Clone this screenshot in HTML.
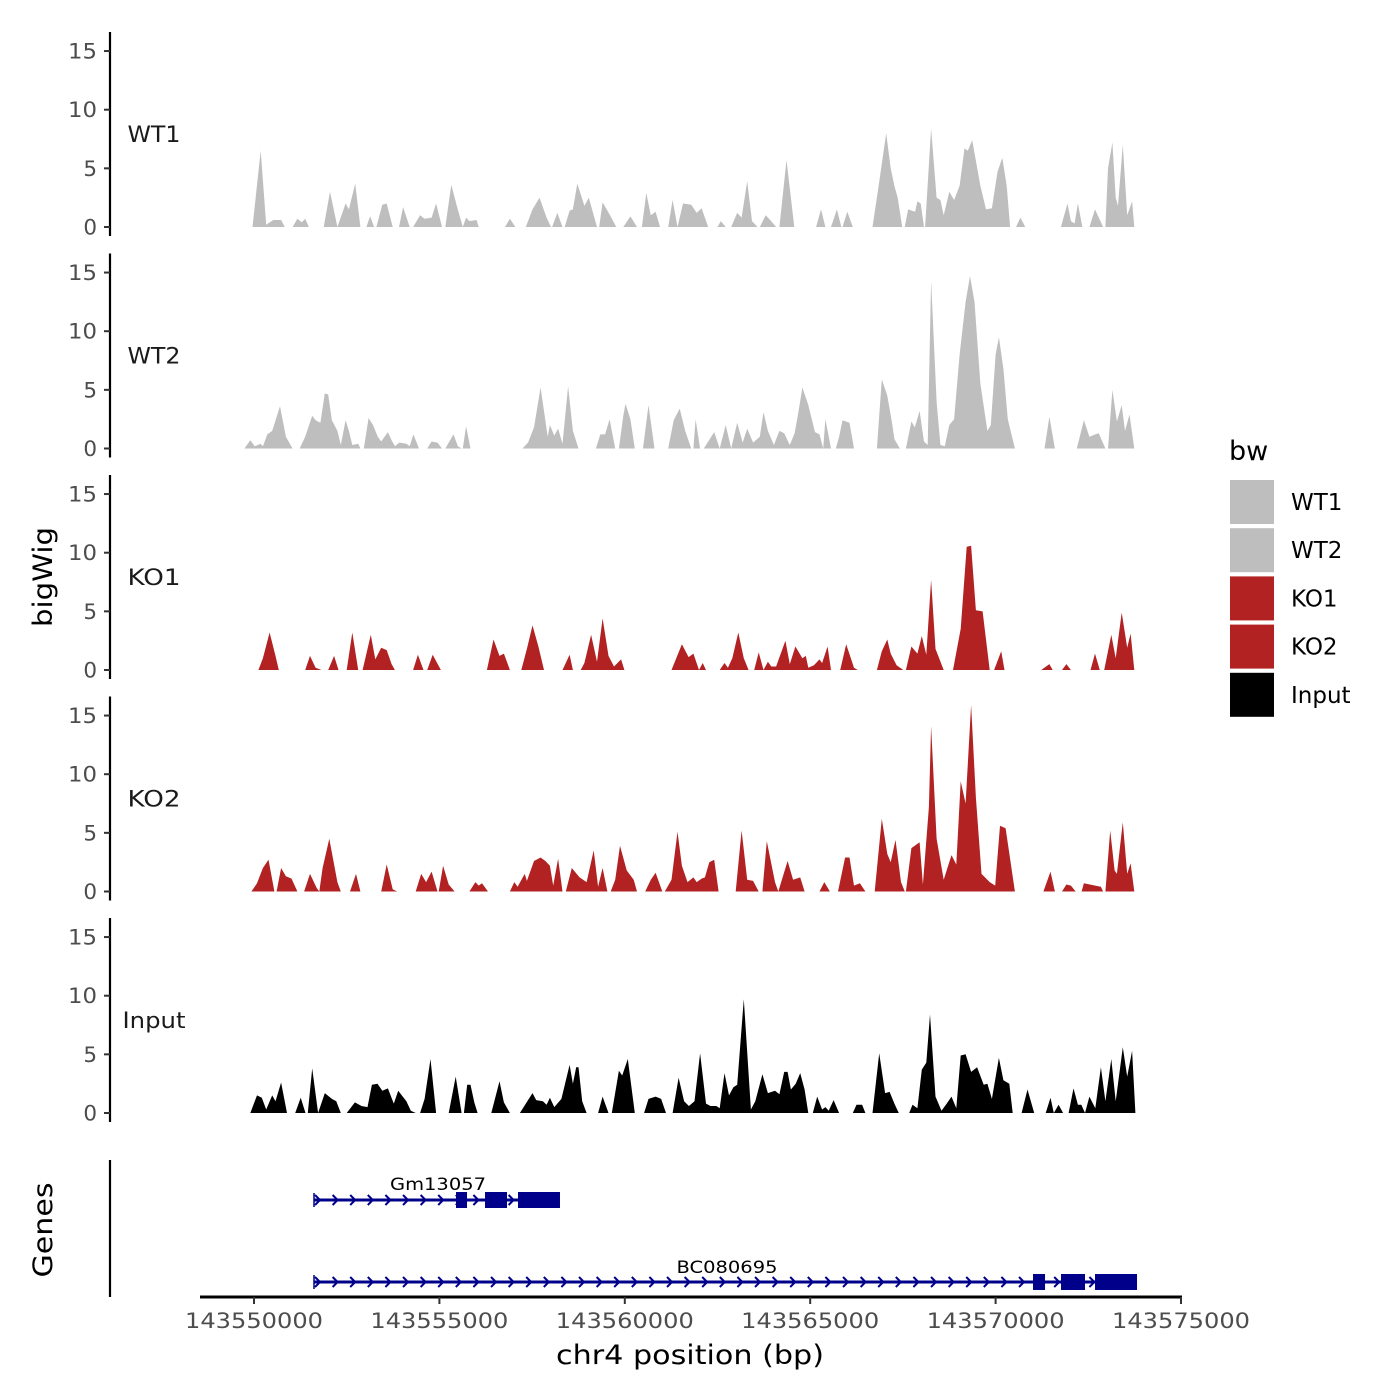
<!DOCTYPE html>
<html><head><meta charset="utf-8"><style>
html,body{margin:0;padding:0;background:#fff;}
svg{display:block;font-family:"DejaVu Sans","Liberation Sans",sans-serif;}
</style></head><body>
<svg id="chart" width="1400" height="1400" viewBox="0 0 1400 1400" xmlns="http://www.w3.org/2000/svg">
<g id="tracks"></g>
<g id="genes"></g>
<g id="xaxis"></g>
<text x="52" y="577" font-size="27" text-anchor="middle" textLength="100" lengthAdjust="spacingAndGlyphs" transform="rotate(-90 52 577)">bigWig</text>
<text x="52" y="1230" font-size="27" text-anchor="middle" textLength="95" lengthAdjust="spacingAndGlyphs" transform="rotate(-90 52 1230)">Genes</text>
<text x="690" y="1364" font-size="27" text-anchor="middle" textLength="268" lengthAdjust="spacingAndGlyphs">chr4 position (bp)</text>
<g id="legend">
<text x="1229" y="460" font-size="27">bw</text>
</g>
</svg>
<script>
// positions in kb offset from 143550000
const trackNames = ["WT1","WT2","KO1","KO2","Input"];
const trackColors = ["#bebebe","#bebebe","#b22222","#b22222","#000000"];
const yTicks = [0,5,10,15];
const xTicks = [143550000,143555000,143560000,143565000,143570000,143575000];
const WT1 = [
[[-0.04,0],[0.18,6.5],[0.33,0.2],[0.52,0.6],[0.73,0.6],[0.83,0]],
[[1.04,0],[1.17,0.7],[1.29,0.4],[1.38,0.7],[1.48,0]],
[[1.88,0],[2.05,3.0],[2.25,0],[2.47,2.0],[2.56,1.5],[2.73,3.7],[2.87,0]],
[[3.03,0],[3.13,0.9],[3.24,0]],
[[3.30,0],[3.46,1.9],[3.58,2.0],[3.74,0]],
[[3.91,0],[4.02,1.7],[4.20,0]],
[[4.29,0],[4.48,1.0],[4.60,0.7],[4.79,0.8],[4.91,2.0],[5.07,0]],
[[5.16,0],[5.32,3.6],[5.47,1.8],[5.63,0],[5.72,0.8],[5.81,0.5],[6.00,0.6],[6.06,0]],
[[6.77,0],[6.90,0.7],[7.05,0]],
[[7.33,0],[7.51,1.5],[7.70,2.5],[7.89,0.8],[8.01,0]],
[[8.04,0],[8.18,1.2],[8.32,0]],
[[8.38,0],[8.51,1.4],[8.60,1.5],[8.72,3.7],[8.91,1.8],[9.03,2.5],[9.25,0]],
[[9.31,0],[9.40,2.1],[9.60,1.0],[9.77,0]],
[[9.96,0],[10.15,0.9],[10.33,0]],
[[10.46,0],[10.58,2.9],[10.70,1.0],[10.83,1.3],[10.95,0]],
[[11.17,0],[11.29,2.3],[11.42,0],[11.57,2.0],[11.79,1.9],[11.94,1.2],[12.07,1.6],[12.25,0]],
[[12.50,0],[12.59,0.5],[12.72,0]],
[[12.87,0],[13.03,1.2],[13.15,0.8],[13.30,3.9],[13.43,0.5],[13.58,0]],
[[13.64,0],[13.80,1.0],[13.92,0.6],[14.08,0]],
[[14.17,0],[14.36,5.7],[14.57,0]],
[[15.16,0],[15.29,1.5],[15.41,0]],
[[15.56,0],[15.72,1.5],[15.84,0]],
[[15.87,0],[16.0,1.3],[16.15,0]],
[[16.68,0],[16.83,3.2],[17.05,8.0],[17.17,5.0],[17.27,3.5],[17.36,2.5],[17.48,0]],
[[17.55,0],[17.64,1.5],[17.83,1.3],[17.89,2.2],[17.98,2.0],[18.07,0]],
[[18.10,0],[18.26,8.4],[18.41,2.5],[18.51,2.3],[18.60,1.0],[18.75,3.0],[18.88,2.3],[19.03,3.5],[19.16,6.7],[19.25,6.5],[19.37,7.4],[19.59,3.5],[19.74,1.5],[19.90,1.6],[20.05,4.7],[20.18,5.9],[20.30,3.5],[20.39,0]],
[[20.55,0],[20.67,0.8],[20.80,0]],
[[21.76,0],[21.94,2.0],[22.03,0.5],[22.13,0.3],[22.22,2.0],[22.34,0]],
[[22.53,0],[22.68,1.5],[22.90,0]],
[[22.96,0],[23.03,5.0],[23.15,7.2],[23.24,2.5],[23.30,1.8],[23.43,7.0],[23.55,1.0],[23.68,2.2],[23.74,0]]
];
const WT2 = [
[[-0.26,0],[-0.10,0.7],[0.02,0.2],[0.18,0.4],[0.24,0.2],[0.36,1.2],[0.49,1.5],[0.70,3.6],[0.86,1.0],[1.04,0]],
[[1.23,0],[1.38,1.0],[1.57,2.8],[1.66,2.4],[1.79,2.2],[1.91,4.7],[2.00,4.6],[2.10,2.4],[2.25,1.5],[2.34,0.3],[2.47,2.4],[2.56,1.5],[2.65,0.3],[2.81,0.4],[2.87,0]],
[[2.96,0],[3.09,2.6],[3.21,2.0],[3.34,1.0],[3.43,0.6],[3.61,1.4],[3.71,0.7],[3.80,0.2],[3.92,0.5],[4.11,0.4],[4.20,0.2],[4.30,1.2],[4.45,0]],
[[4.67,0],[4.79,0.6],[4.95,0.5],[5.07,0]],
[[5.16,0],[5.38,1.2],[5.50,0.2],[5.60,0]],
[[5.63,0],[5.72,1.9],[5.84,0]],
[[7.24,0],[7.39,0.5],[7.55,1.8],[7.73,5.2],[7.92,1.0],[7.98,2.0],[8.10,1.1],[8.20,1.7],[8.32,0.4],[8.47,5.3],[8.60,1.5],[8.75,0]],
[[9.22,0],[9.34,1.2],[9.47,1.2],[9.59,2.5],[9.74,0]],
[[9.84,0],[9.96,2.8],[10.02,3.8],[10.15,2.5],[10.27,0]],
[[10.49,0],[10.64,3.7],[10.80,0]],
[[11.17,0],[11.32,2.4],[11.48,3.4],[11.63,1.5],[11.79,0]],
[[11.85,0],[11.91,2.5],[12.03,0]],
[[12.13,0],[12.41,1.4],[12.56,0],[12.72,2.0],[12.87,0],[13.03,2.2],[13.18,0.5],[13.30,1.7],[13.46,0.5],[13.64,1.0],[13.74,3.1],[13.86,1.5],[14.02,0.3],[14.17,1.5],[14.30,1.3],[14.45,0.3],[14.58,1.3],[14.67,2.9],[14.79,5.2],[14.95,3.7],[15.13,1.4],[15.25,1.2],[15.35,0],[15.41,2.5],[15.56,0]],
[[15.69,0],[15.78,1.0],[15.87,2.4],[16.06,2.2],[16.18,0]],
[[16.80,0],[16.93,5.9],[17.08,4.5],[17.20,2.3],[17.27,0.8],[17.42,0]],
[[17.58,0],[17.73,2.3],[17.82,1.8],[17.95,3.2],[18.07,0.6],[18.17,0.3],[18.26,14.3],[18.41,4.0],[18.51,0.3],[18.63,0.2],[18.75,2.0],[18.88,2.5],[19.03,8.0],[19.19,12.5],[19.31,14.7],[19.43,12.5],[19.59,5.5],[19.78,1.5],[19.87,2.0],[20.00,8.0],[20.09,9.5],[20.21,6.8],[20.33,2.5],[20.52,0]],
[[21.32,0],[21.45,2.7],[21.60,0]],
[[22.19,0],[22.38,2.4],[22.53,1.0],[22.69,1.2],[22.78,1.3],[22.96,0]],
[[23.03,0],[23.15,5.0],[23.27,2.3],[23.40,3.7],[23.49,1.5],[23.61,2.9],[23.74,0]]
];
const KO1 = [
[[0.12,0],[0.24,1.0],[0.42,3.2],[0.58,1.2],[0.67,0]],
[[1.38,0],[1.51,1.2],[1.66,0.2],[1.82,0]],
[[2.0,0],[2.16,1.2],[2.28,0]],
[[2.50,0],[2.65,3.2],[2.81,0]],
[[2.93,0],[3.15,3.0],[3.27,0.9],[3.43,1.9],[3.58,1.7],[3.71,0.5],[3.80,0]],
[[4.29,0],[4.42,1.3],[4.57,0]],
[[4.67,0],[4.82,1.3],[5.04,0]],
[[6.28,0],[6.46,2.6],[6.62,1.2],[6.74,1.4],[6.90,0]],
[[7.21,0],[7.36,1.8],[7.51,3.8],[7.67,2.0],[7.82,0]],
[[8.32,0],[8.51,1.3],[8.60,0]],
[[8.81,0],[8.91,0.6],[9.09,3.0],[9.25,0.7],[9.40,4.4],[9.56,1.2],[9.71,0.3],[9.90,0.9],[9.99,0]],
[[11.26,0],[11.54,2.2],[11.72,1.1],[11.85,1.4],[12.0,0],[12.10,0.6],[12.19,0]],
[[12.56,0],[12.69,0.6],[12.78,0.2],[12.90,1.0],[13.06,3.2],[13.21,1.0],[13.34,0]],
[[13.49,0],[13.61,1.5],[13.74,0],[13.86,0.7],[13.95,0.3],[14.08,0.3],[14.33,2.5],[14.45,0.5],[14.60,2.0],[14.79,1.0],[14.88,1.2],[14.95,0.2],[15.10,0.4],[15.25,0.9],[15.32,0.6],[15.47,2.0],[15.56,0]],
[[15.81,0],[15.97,2.2],[16.18,0.2],[16.28,0]],
[[16.80,0],[16.93,1.6],[17.08,2.6],[17.17,1.4],[17.33,0.4],[17.51,0]],
[[17.58,0],[17.73,2.0],[17.89,1.4],[18.01,2.9],[18.13,1.3],[18.26,7.7],[18.38,1.8],[18.60,0]],
[[18.85,0],[19.06,3.5],[19.22,10.5],[19.34,10.6],[19.47,5.1],[19.65,5.0],[19.84,0]],
[[19.96,0],[20.15,1.6],[20.24,0]],
[[21.23,0],[21.45,0.5],[21.54,0]],
[[21.79,0],[21.91,0.5],[22.03,0]],
[[22.56,0],[22.68,1.4],[22.81,0]],
[[22.93,0],[23.12,3.0],[23.24,1.0],[23.40,4.9],[23.55,1.9],[23.64,3.1],[23.74,0]]
];
const KO2 = [
[[-0.07,0],[0.08,0.7],[0.24,2.0],[0.39,2.7],[0.55,0]],
[[0.61,0],[0.73,2.0],[0.86,1.3],[1.01,1.1],[1.17,0]],
[[1.35,0],[1.51,1.5],[1.69,0.3],[1.76,0],[1.85,2.0],[2.03,4.5],[2.25,0.8],[2.34,0]],
[[2.59,0],[2.75,1.5],[2.87,0]],
[[3.43,0],[3.58,2.3],[3.74,0.2],[3.86,0]],
[[4.36,0],[4.51,1.5],[4.64,0.8],[4.79,1.7],[4.95,0]],
[[4.98,0],[5.10,2.2],[5.25,0.6],[5.41,0]],
[[5.81,0],[5.97,0.8],[6.06,0.5],[6.15,0.7],[6.31,0]],
[[6.90,0],[7.02,0.8],[7.11,0.4],[7.30,1.5],[7.36,0.9],[7.55,2.6],[7.73,2.9],[7.86,2.6],[7.98,2.2],[8.07,0.5],[8.20,2.8],[8.32,0]],
[[8.41,0],[8.57,2.0],[8.78,1.2],[8.97,0.8],[9.16,3.5],[9.28,0.4],[9.40,2.0],[9.53,0]],
[[9.62,0],[9.74,1.0],[9.87,3.9],[10.05,1.8],[10.24,1.0],[10.33,0]],
[[10.55,0],[10.70,1.0],[10.83,1.6],[11.01,0]],
[[11.08,0],[11.26,1.0],[11.42,5.1],[11.54,2.2],[11.69,0.8],[11.85,1.2],[11.94,0.8],[12.07,1.1],[12.16,1.2],[12.28,2.5],[12.41,2.7],[12.53,0]],
[[12.99,0],[13.15,5.2],[13.30,1.0],[13.46,0.9],[13.61,0]],
[[13.71,0],[13.83,4.3],[14.05,0.8],[14.14,0],[14.39,2.6],[14.54,1.0],[14.73,1.2],[14.85,0]],
[[15.25,0],[15.38,0.8],[15.53,0]],
[[15.75,0],[15.94,2.9],[16.06,2.9],[16.18,0.5],[16.34,0.7],[16.49,0]],
[[16.74,0],[16.93,6.2],[17.08,3.2],[17.17,2.5],[17.30,4.4],[17.45,0.8],[17.55,0]],
[[17.58,0],[17.73,3.7],[17.95,4.2],[18.04,0.6],[18.20,7.2],[18.26,14.1],[18.41,4.5],[18.60,1.0],[18.81,3.1],[18.94,2.3],[19.06,9.4],[19.19,7.5],[19.34,15.9],[19.47,8.0],[19.62,1.5],[19.84,0.8],[19.99,0.5],[20.12,5.6],[20.27,5.4],[20.52,0]],
[[21.29,0],[21.48,1.7],[21.60,0]],
[[21.79,0],[21.91,0.6],[22.03,0.5],[22.16,0]],
[[22.32,0],[22.38,0.7],[22.69,0.5],[22.84,0.4],[22.90,0]],
[[22.96,0],[23.09,5.2],[23.21,1.8],[23.27,1.5],[23.43,5.9],[23.55,1.5],[23.64,2.4],[23.74,0]]
];
const INPUT = [
[[-0.10,0],[0.08,1.5],[0.21,1.3],[0.33,0.3],[0.49,1.5],[0.58,1.0],[0.73,2.6],[0.89,0]],
[[1.11,0],[1.26,1.3],[1.39,0]],
[[1.45,0],[1.57,3.8],[1.73,0],[1.91,1.7],[2.10,1.2],[2.22,1.0],[2.34,0]],
[[2.50,0],[2.72,0.9],[2.90,0.6],[3.06,0.5],[3.18,2.4],[3.33,2.5],[3.46,1.9],[3.61,2.1],[3.77,0.8],[3.89,1.9],[4.11,1.0],[4.23,0.2],[4.36,0]],
[[4.48,0],[4.60,1.2],[4.76,4.6],[4.91,0]],
[[5.25,0],[5.44,3.1],[5.60,0]],
[[5.66,0],[5.75,2.4],[5.84,2.4],[5.94,0.9],[6.03,0]],
[[6.40,0],[6.62,2.7],[6.74,0.9],[6.90,0]],
[[7.17,0],[7.33,0.8],[7.51,1.7],[7.61,1.1],[7.79,1.0],[7.89,0.7],[7.98,1.3],[8.10,0.5],[8.29,1.2],[8.51,4.1],[8.60,2.5],[8.69,3.9],[8.75,3.9],[8.85,1.0],[8.97,0]],
[[9.28,0],[9.40,1.4],[9.56,0]],
[[9.65,0],[9.84,3.6],[9.93,3.2],[10.08,4.6],[10.27,0]],
[[10.52,0],[10.64,1.2],[10.83,1.4],[10.98,1.2],[11.11,0]],
[[11.29,0],[11.45,3.0],[11.60,1.0],[11.73,0.6],[11.88,1.0],[12.03,5.1],[12.19,0.8],[12.31,0.6],[12.47,0.6],[12.56,0.4],[12.69,3.4],[12.81,1.5],[12.93,2.2],[13.03,2.4],[13.21,9.7],[13.40,0.3],[13.52,1.0],[13.71,3.3],[13.86,1.7],[14.05,1.9],[14.17,1.6],[14.30,3.5],[14.39,3.5],[14.48,2.0],[14.61,2.5],[14.73,3.4],[14.85,2.0],[14.95,0]],
[[15.07,0],[15.19,1.4],[15.32,0.3],[15.41,0.5],[15.50,0.2],[15.63,1.1],[15.78,0]],
[[16.15,0],[16.25,0.7],[16.40,0.7],[16.49,0]],
[[16.68,0],[16.86,5.1],[17.02,1.7],[17.14,1.8],[17.27,0.8],[17.39,0]],
[[17.67,0],[17.76,0.7],[17.89,0.4],[18.01,3.7],[18.13,4.3],[18.23,8.4],[18.38,1.4],[18.54,0.2],[18.66,0.7],[18.81,1.4],[18.94,0.4],[19.06,4.9],[19.19,5.0],[19.34,3.5],[19.50,3.9],[19.68,2.4],[19.78,2.5],[19.90,1.2],[20.09,4.7],[20.21,2.8],[20.37,2.5],[20.46,0]],
[[20.70,0],[20.86,2.0],[21.04,0]],
[[21.35,0],[21.48,1.3],[21.57,0]],
[[21.57,0],[21.70,0.7],[21.82,0]],
[[21.97,0],[22.10,2.1],[22.22,0.7],[22.31,0.7],[22.41,0],[22.53,1.4],[22.69,0.4],[22.84,3.9],[22.96,1.0],[23.12,4.6],[23.24,1.0],[23.43,5.6],[23.55,3.1],[23.68,5.3],[23.77,0]]
];
const trackData = [WT1, WT2, KO1, KO2, INPUT];
const geneNames = ["Gm13057","BC080695"];
const geneSpans = [[1.618,8.252],[1.618,23.814]];
const geneExons = [
  [[5.448,5.745],[6.230,6.823],[7.120,8.252]],
  [[21.009,21.333],[21.764,22.411],[22.681,23.814]]
];

const NS="http://www.w3.org/2000/svg";
const X0=254, PXKB=37.08;
function xs(kb){return X0+kb*PXKB;}
function xbp(bp){return xs((bp-143550000)/1000);}
const PANEL0=227, PANELSTEP=221.5, PXU=11.73;
function ys(i,v){return PANEL0+i*PANELSTEP - v*PXU;}
function mk(tag,attrs,parent){const e=document.createElementNS(NS,tag);for(const k in attrs)e.setAttribute(k,attrs[k]);parent.appendChild(e);return e;}

const tracksG=document.getElementById('tracks');
trackNames.forEach((name,i)=>{
  const g=mk('g',{},tracksG);
  
  
  const y0=ys(i,0);
  const ax=mk('line',{x1:110,x2:110,y1:y0-195,y2:y0+9,stroke:'#000','stroke-width':2.2},g);
  
  
  yTicks.forEach(t=>{
    const yy=ys(i,t);
    const tk=mk('line',{x1:104,x2:110,y1:yy,y2:yy,stroke:'#333','stroke-width':2},g);
    
    
    const tl=mk('text',{x:97,y:yy+7.5,'font-size':21.5,'text-anchor':'end',fill:'#4d4d4d'},g);
    if(t>=10){tl.setAttribute('textLength',29);tl.setAttribute('lengthAdjust','spacingAndGlyphs');}
    tl.textContent=t;
    
    
  });
  const lb=mk('text',{x:154,y:y0-85,'font-size':22,'text-anchor':'middle',fill:'#1a1a1a',textLength:(name==='Input'?63:53),lengthAdjust:'spacingAndGlyphs'},g);
  lb.textContent=name;
  
  
  trackData[i].forEach(seg=>{
    let d='M'+xs(seg[0][0]).toFixed(1)+','+y0;
    seg.forEach(p=>{d+='L'+xs(p[0]).toFixed(1)+','+ys(i,p[1]).toFixed(1);});
    d+='L'+xs(seg[seg.length-1][0]).toFixed(1)+','+y0+'Z';
    const a=mk('path',{d:d,fill:trackColors[i]},g);
    
    
  });
});

const gg=document.getElementById('genes');
const gax=mk('line',{x1:110,x2:110,y1:1160,y2:1297,stroke:'#000','stroke-width':2.2},gg);


const geneY=[1200,1282];
const labelY=[1190,1273];
const geneLabelX=[438,727];
const geneLabelW=[96,101];
geneNames.forEach((n,i)=>{
  const g=mk('g',{},gg);
  
  
  const y=geneY[i];
  const x1=xs(geneSpans[i][0]), x2=xs(geneSpans[i][1]);
  mk('line',{x1:x1,x2:x2,y1:y,y2:y,stroke:'#00008b','stroke-width':3},g);
  mk('line',{x1:x1,x2:x1,y1:y-7,y2:y+7,stroke:'#00008b','stroke-width':1.5},g);
  for(let x=x1+4;x<x2-4;x+=17.6){
    mk('polyline',{points:(x-3)+','+(y-5)+' '+(x+2)+','+y+' '+(x-3)+','+(y+5),fill:'none',stroke:'#00008b','stroke-width':2},g);
  }
  geneExons[i].forEach(e=>{
    const r=mk('rect',{x:xs(e[0]),y:y-8,width:xs(e[1])-xs(e[0]),height:16,fill:'#00008b'},g);
    
    
  });
  const t=mk('text',{x:geneLabelX[i],y:labelY[i],'font-size':17,'text-anchor':'middle',fill:'#000',textLength:geneLabelW[i],lengthAdjust:'spacingAndGlyphs'},g);
  t.textContent=n;
  
  
});

const xg=document.getElementById('xaxis');
mk('line',{x1:200,x2:1182,y1:1297,y2:1297,stroke:'#000','stroke-width':3},xg);
xTicks.forEach(t=>{
  const x=xbp(t);
  const tk=mk('line',{x1:x,x2:x,y1:1297,y2:1304,stroke:'#333','stroke-width':2},xg);
  
  
  const tl=mk('text',{x:x,y:1328,'font-size':21.5,'text-anchor':'middle',fill:'#4d4d4d',textLength:138,lengthAdjust:'spacingAndGlyphs'},xg);
  tl.textContent=t;
  
  
});

const lg=document.getElementById('legend');
const legendLabels=["WT1","WT2","KO1","KO2","Input"];
legendLabels.forEach((n,i)=>{
  const y=480+i*48.2;
  const r=mk('rect',{x:1230,y:y,width:44,height:44,fill:trackColors[i]},lg);
  
  
  const t=mk('text',{x:1291,y:y+30,'font-size':23,fill:'#000'},lg);
  t.textContent=n;
  
  
});
</script>
</body></html>
